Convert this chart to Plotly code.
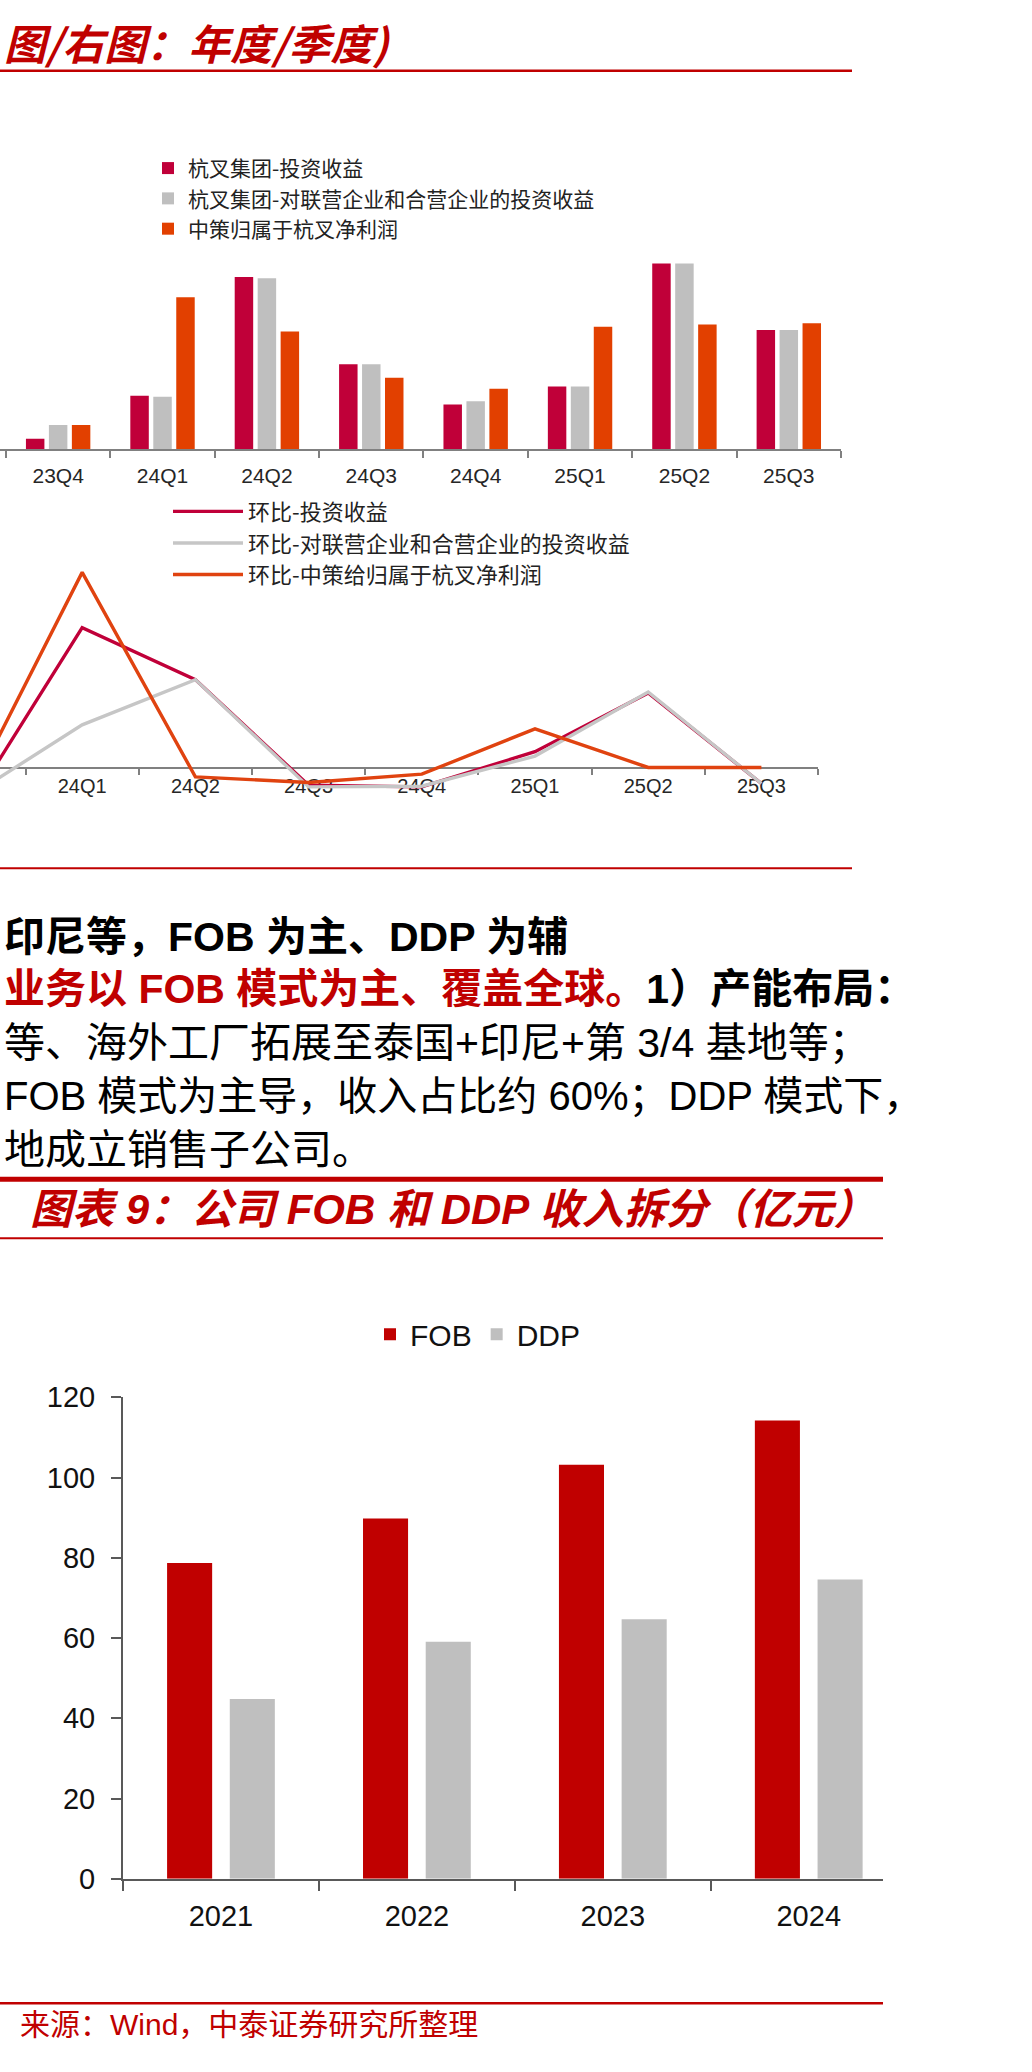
import plotly.graph_objects as go

W, H = 1032, 2072

# ---------------- data ----------------
quarters = ["23Q4", "24Q1", "24Q2", "24Q3", "24Q4", "25Q1", "25Q2", "25Q3"]
inv_income = [0.32, 1.63, 5.25, 2.59, 1.36, 1.91, 5.66, 3.63]
assoc_income = [0.74, 1.60, 5.21, 2.59, 1.46, 1.91, 5.66, 3.63]
zc_profit = [0.74, 4.63, 3.59, 2.18, 1.84, 3.73, 3.80, 3.84]

qoq_inv = [-118, 420, 265, -50, -55, 50, 225, -45]
qoq_assoc = [-85, 130, 265, -55, -53, 37, 228, -45]
qoq_zc = [-80, 585, -25, -42, -17, 118, 3, 3]

years = ["2021", "2022", "2023", "2024"]
fob = [78.7, 89.8, 103.2, 114.2]
ddp = [44.8, 59.1, 64.7, 74.6]

bar_names = ["杭叉集团-投资收益", "杭叉集团-对联营企业和合营企业的投资收益", "中策归属于杭叉净利润"]
line_names = ["环比-投资收益", "环比-对联营企业和合营企业的投资收益", "环比-中策给归属于杭叉净利润"]

# ---------------- styling helpers ----------------
RED = "#C00000"
CRIMSON = "#C00039"
GRAY = "#BFBFBF"
ORANGE = "#E24000"
CJK = "Noto Sans CJK SC"
MIX = "Liberation Sans, Noto Sans CJK SC"


def fx(px):
    return px / W


def fy(px):
    return 1 - px / H


fig = go.Figure()

# ---- top grouped bar chart ----
bw = 0.177
for vals, name, col, c in zip([inv_income, assoc_income, zc_profit], bar_names,
                              [CRIMSON, GRAY, ORANGE], [-0.22, 0.0, 0.22]):
    fig.add_trace(go.Bar(x=quarters, y=vals, name=name, marker_color=col,
                         marker_line_width=0, width=bw, offset=c - bw / 2,
                         xaxis="x", yaxis="y", legend="legend"))

# ---- QoQ line chart ----
for vals, name, col in zip([qoq_inv, qoq_assoc, qoq_zc], line_names,
                           [CRIMSON, "#C6C6C6", "#E04310"]):
    fig.add_trace(go.Scatter(x=quarters, y=vals, name=name, mode="lines",
                             line=dict(color=col, width=3.4),
                             xaxis="x2", yaxis="y2", legend="legend2"))

# ---- bottom FOB / DDP chart ----
bw3 = 0.23
for vals, name, col, c in zip([fob, ddp], ["FOB", "DDP"], [RED, GRAY], [-0.16, 0.16]):
    fig.add_trace(go.Bar(x=years, y=vals, name=name, marker_color=col,
                         marker_line_width=0, width=bw3, offset=c - bw3 / 2,
                         xaxis="x3", yaxis="y3", legend="legend3"))

# line chart geometry
y2_top, y2_bot = 560, 800
y2_range = [-105, 600]
zero_px = y2_top + (y2_range[1] - 0) / (y2_range[1] - y2_range[0]) * (y2_bot - y2_top)

fig.update_layout(
    width=W, height=H,
    margin=dict(l=0, r=0, t=0, b=0),
    paper_bgcolor="white", plot_bgcolor="rgba(0,0,0,0)",
    barmode="group",
    xaxis=dict(domain=[0, fx(841)], range=[-0.557, 7.5], type="category", anchor="y",
               showline=True, linecolor="#808080", linewidth=1.5,
               ticks="outside", tickson="boundaries", ticklen=7, tickwidth=1.5,
               tickcolor="#808080", showgrid=False, zeroline=False, ticklabelstandoff=7,
               tickfont=dict(family="Liberation Sans", size=21, color="#262626")),
    yaxis=dict(domain=[fy(440), fy(240)], range=[0, 6.0], visible=False, anchor="x"),
    xaxis2=dict(domain=[0, fx(818)], range=[0.274, 7.5], type="category",
                anchor="free", position=fy(zero_px), layer="below traces",
                showline=True, linecolor="#808080", linewidth=2,
                ticks="outside", tickson="boundaries", ticklen=6, tickwidth=1.5,
                tickcolor="#808080", showgrid=False, zeroline=False,
                tickfont=dict(family="Liberation Sans", size=20, color="#262626")),
    yaxis2=dict(domain=[fy(y2_bot), fy(y2_top)], range=y2_range, visible=False, anchor="x2"),
    xaxis3=dict(domain=[fx(123), fx(883)], range=[-0.5, 3.379], type="category", anchor="y3",
                showline=True, linecolor="#595959", linewidth=2,
                ticks="outside", tickson="boundaries", ticklen=10, tickwidth=2,
                tickcolor="#595959", showgrid=False, zeroline=False, ticklabelstandoff=10,
                tickfont=dict(family="Liberation Sans", size=29, color="#111111")),
    yaxis3=dict(domain=[fy(1892), fy(1403)], range=[0, 120], dtick=20, tick0=0, anchor="x3",
                showline=True, linecolor="#595959", linewidth=2,
                ticks="outside", ticklen=10, tickwidth=2, tickcolor="#595959",
                showgrid=False, zeroline=False, ticklabelstandoff=10,
                tickfont=dict(family="Liberation Sans", size=29, color="#111111")),
    legend=dict(x=fx(148), y=fy(134), xanchor="left", yanchor="top",
                bgcolor="rgba(0,0,0,0)", traceorder="normal",
                font=dict(family=CJK, size=21, color="#222222")),
    legend2=dict(x=fx(168), y=fy(482), xanchor="left", yanchor="top",
                 bgcolor="rgba(0,0,0,0)", traceorder="normal", itemwidth=70,
                 font=dict(family=CJK, size=22, color="#222222")),
    legend3=dict(x=fx(370), y=fy(1339), xanchor="left", yanchor="middle",
                 orientation="h", bgcolor="rgba(0,0,0,0)", traceorder="normal",
                 font=dict(family="Liberation Sans", size=30, color="#111111")),
)

# ---- page decoration: red rules ----
rules = [(55.5, 852, 2.5), (865.5, 852, 2), (1181.5, 883, 5), (1241.5, 883, 2), (2018.5, 883, 2.5)]
for ypx, xend, lw in rules:
    fig.add_shape(type="line", xref="paper", yref="paper", x0=0, x1=fx(xend),
                  y0=fy(ypx), y1=fy(ypx), line=dict(color=RED, width=lw))


# ---- texts ----
def note(text, x, y, size, color="#000000", anchor="left", family=MIX, weight="normal",
         style="normal"):
    fig.add_annotation(text=text, x=fx(x), y=fy(y), xref="paper", yref="paper",
                       xanchor=anchor, yanchor="middle", showarrow=False,
                       font=dict(family=family, size=size, color=color, weight=weight,
                                 style=style))


note("图/右图：年度/季度)", 2, 26, 42, RED, "left", CJK, "bold", "italic")
note("<b>印尼等，FOB 为主、DDP 为辅</b>", 2, 935, 41)
note("<b><span style='color:#C00000'>业务以 FOB 模式为主、覆盖全球。</span>1）产能布局：</b>",
     2, 988, 41)
note("等、海外工厂拓展至泰国+印尼+第 3/4 基地等；", 2, 1043, 41)
note("FOB 模式为主导，收入占比约 60%；DDP 模式下，", 2, 1097, 40)
note("地成立销售子公司。", 2, 1152, 41)
note("图表 9：公司 FOB 和 DDP 收入拆分（亿元）", 28, 1212, 42, RED, "left", MIX, "bold", "italic")
note("来源：Wind，中泰证券研究所整理", 18, 2040, 30, RED, "left", MIX)

fig.write_html("out.html")
